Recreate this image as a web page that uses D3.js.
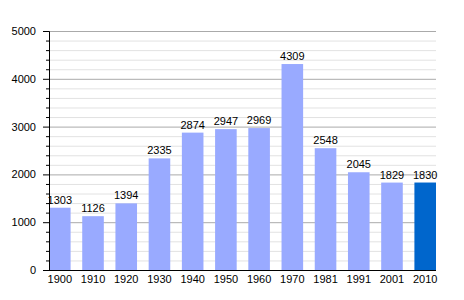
<!DOCTYPE html>
<html>
<head>
<meta charset="utf-8">
<script src="https://cdn.jsdelivr.net/npm/d3@7"></script>
<style>
  body { margin: 0; background: #fff; }
  text { font-family: "Liberation Sans", Arial, sans-serif; }
</style>
</head>
<body>
<div id="chart"></div>
<script>
const years = ["1900", "1910", "1920", "1930", "1940", "1950", "1960", "1970", "1981", "1991", "2001", "2010"];
const population = [1303, 1126, 1394, 2335, 2874, 2947, 2969, 4309, 2548, 2045, 1829, 1830];
const yTicks = [0, 1000, 2000, 3000, 4000, 5000];

const width = 464, height = 300;
const plotLeft = 49, plotRight = 436, plotTop = 31, plotBottom = 270;

const svg = d3.select("#chart").append("svg")
  .attr("width", width)
  .attr("height", height);

const x = d3.scaleBand()
  .domain(years)
  .range([plotLeft, plotRight])
  .paddingInner(0.35)
  .paddingOuter(0);

const y = d3.scaleLinear()
  .domain([0, 5000])
  .range([plotBottom, plotTop]);

// minor grid lines every 200
const minor = d3.range(200, 5000, 200).filter(v => v % 1000 !== 0);
svg.append("g")
  .selectAll("line")
  .data(minor)
  .enter().append("line")
  .attr("x1", plotLeft).attr("x2", plotRight)
  .attr("y1", d => y(d) + 0.5).attr("y2", d => y(d) + 0.5)
  .attr("stroke", "#e2e2e2");

// major grid lines
svg.append("g")
  .selectAll("line")
  .data(yTicks.filter(v => v > 0))
  .enter().append("line")
  .attr("x1", plotLeft).attr("x2", plotRight)
  .attr("y1", d => y(d) + 0.5).attr("y2", d => y(d) + 0.5)
  .attr("stroke", "#aaaaaa");

// bars
svg.append("g")
  .selectAll("rect")
  .data(population)
  .enter().append("rect")
  .attr("x", (d, i) => x(years[i]))
  .attr("y", d => y(d))
  .attr("width", x.bandwidth())
  .attr("height", d => plotBottom - y(d))
  .attr("fill", (d, i) => i === years.length - 1 ? "#0066cc" : "#99aaff");

// value labels
svg.append("g")
  .selectAll("text")
  .data(population)
  .enter().append("text")
  .attr("x", (d, i) => x(years[i]) + x.bandwidth() / 2)
  .attr("y", d => y(d) - 4)
  .attr("text-anchor", "middle")
  .attr("font-size", 11)
  .attr("fill", "#000")
  .text(d => d);

// y axis
const yAxis = svg.append("g")
  .attr("transform", `translate(${plotLeft},0)`)
  .call(d3.axisLeft(y).tickValues(yTicks).tickFormat(d => d).tickSize(6).tickPadding(7));
yAxis.selectAll("text").attr("font-size", 11).attr("font-family", "Liberation Sans, Arial, sans-serif");
yAxis.select(".domain").attr("stroke", "#000");

// minor ticks on y axis
svg.append("g")
  .selectAll("line")
  .data(minor)
  .enter().append("line")
  .attr("x1", plotLeft - 3).attr("x2", plotLeft)
  .attr("y1", d => y(d) + 0.5).attr("y2", d => y(d) + 0.5)
  .attr("stroke", "#000");

// x axis
const xAxis = svg.append("g")
  .attr("transform", `translate(0,${plotBottom})`)
  .call(d3.axisBottom(x).tickSize(0).tickPadding(5));
xAxis.select(".domain").attr("d", `M${plotLeft - 6},0.5H${plotRight}`).attr("stroke", "#000");
xAxis.selectAll("text").attr("font-size", 11).attr("font-family", "Liberation Sans, Arial, sans-serif");
</script>
</body>
</html>
